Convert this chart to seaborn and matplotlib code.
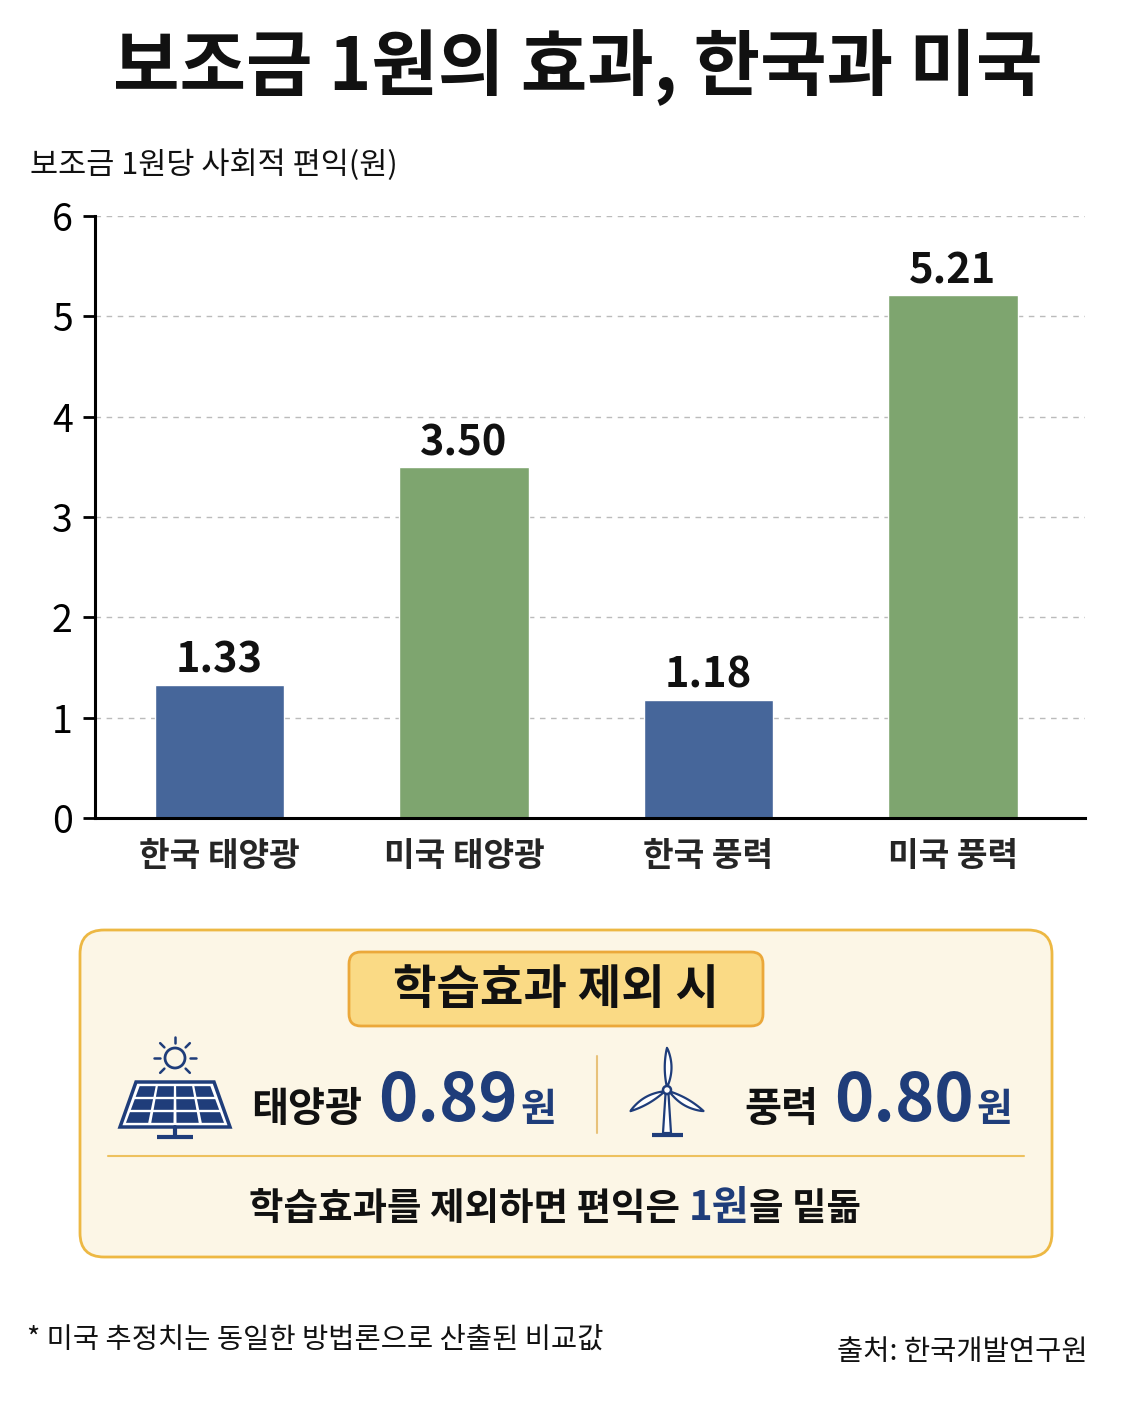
import numpy as np
import pandas as pd
import matplotlib
matplotlib.use("Agg")
import matplotlib.pyplot as plt
import seaborn as sns
from matplotlib.patches import FancyBboxPatch, Polygon, Circle

# chart data
categories = ["한국 태양광", "미국 태양광", "한국 풍력", "미국 풍력"]
values = [1.33, 3.50, 1.18, 5.21]
bar_colors = ["#46669A", "#7EA56F", "#46669A", "#7EA56F"]
y_ticks = [0, 1, 2, 3, 4, 5, 6]

# info box numbers
solar_no_learning = 0.89
wind_no_learning = 0.80

title = "보조금 1원의 효과, 한국과 미국"
y_title = "보조금 1원당 사회적 편익(원)"
box_title = "학습효과 제외 시"
footnote = "* 미국 추정치는 동일한 방법론으로 산출된 비교값"
source = "출처: 한국개발연구원"

NAVY = "#1F3D7A"
GOLD = "#EDB843"
W, H = 1122, 1402

sns.set_theme(style="white")
plt.rcParams["font.family"] = ["Noto Sans CJK KR", "DejaVu Sans"]

df = pd.DataFrame({"category": categories, "value": values})

fig = plt.figure(figsize=(W / 100, H / 100), dpi=100)
fig.patch.set_facecolor("white")


def fx(x):
    return x / W


def fy(y):
    return 1 - y / H


# main bar chart
ax = fig.add_axes([fx(95), fy(818), fx(1085) - fx(95), fy(216) - fy(818)])
sns.barplot(data=df, x="category", y="value", hue="category", palette=bar_colors,
            width=0.53, legend=False, ax=ax, saturation=1)
ax.set_xlim(-0.51, 3.54)
ax.set_ylim(0, 6)
ax.set_yticks(y_ticks)
ax.set_yticklabels([str(t) for t in y_ticks], fontsize=27)
ax.set_xlabel("")
ax.set_ylabel("")
ax.tick_params(axis="y", length=9, width=2, pad=7, colors="black", left=True)
ax.tick_params(axis="x", length=0, pad=16)
for lbl in ax.get_xticklabels():
    lbl.set_fontsize(24)
    lbl.set_fontweight("bold")
ax.yaxis.grid(True, linestyle=(0, (4, 4)), color="#BBBBBB", linewidth=1)
ax.set_axisbelow(True)
sns.despine(ax=ax, top=True, right=True)
ax.spines["left"].set_linewidth(2.2)
ax.spines["bottom"].set_linewidth(2.2)
ax.spines["left"].set_color("black")
ax.spines["bottom"].set_color("black")
for cont in ax.containers:
    ax.bar_label(cont, labels=[f"{v:.2f}" for v in cont.datavalues], padding=2,
                 fontsize=30, fontweight="bold", color="#111111")

fig.text(fx(578), fy(68), title, ha="center", va="center", fontsize=52,
         fontweight="black", color="#111111")
fig.text(fx(30), fy(165), y_title, ha="left", va="center", fontsize=22,
         color="#111111")

# overlay axes in pixel units for the info box
ov = fig.add_axes([0, 0, 1, 1], zorder=5)
ov.set_xlim(0, W)
ov.set_ylim(H, 0)
ov.axis("off")
ov.patch.set_alpha(0)

ov.add_patch(FancyBboxPatch((80, 930), 972, 327, boxstyle="round,pad=0,rounding_size=24",
                            facecolor="#FCF6E6", edgecolor=GOLD, linewidth=2))
ov.add_patch(FancyBboxPatch((349, 952), 414, 74, boxstyle="round,pad=0,rounding_size=12",
                            facecolor="#FADA85", edgecolor="#EBA83A", linewidth=2))
ov.text(556, 990, box_title, ha="center", va="center", fontsize=34,
        fontweight="bold", color="#111111")
ov.plot([597, 597], [1056, 1133], color="#E8C27A", linewidth=1.5)
ov.plot([108, 1024], [1156, 1156], color="#EDC15E", linewidth=1.5)

# solar panel icon
ov.add_patch(Polygon([(136, 1082), (214, 1082), (230, 1127), (120, 1127)], closed=True,
                     facecolor="white", edgecolor=NAVY, linewidth=2.5))
tl, tr, br, bl = np.array([139, 1085]), np.array([211, 1085]), np.array([226, 1124]), np.array([124, 1124])


def lerp_pt(u, v):
    top = tl + (tr - tl) * u
    bot = bl + (br - bl) * u
    return top + (bot - top) * v


for r in range(3):
    for c in range(4):
        u0, u1 = c / 4 + 0.015, (c + 1) / 4 - 0.015
        v0, v1 = r / 3 + 0.03, (r + 1) / 3 - 0.03
        ov.add_patch(Polygon([lerp_pt(u0, v0), lerp_pt(u1, v0), lerp_pt(u1, v1), lerp_pt(u0, v1)],
                             closed=True, facecolor=NAVY, edgecolor="none"))
ov.plot([175, 175], [1127, 1137], color=NAVY, linewidth=3)
ov.plot([157, 193], [1137, 1137], color=NAVY, linewidth=3, solid_capstyle="butt")
ov.add_patch(Circle((175, 1058), 10, facecolor="none", edgecolor=NAVY, linewidth=2))
for a in [0, 45, 90, 135, 180, 225, 315]:
    ang = np.deg2rad(a)
    d = np.array([np.cos(ang), -np.sin(ang)])
    p0, p1 = np.array([175, 1058]) + d * 15, np.array([175, 1058]) + d * 21
    ov.plot([p0[0], p1[0]], [p0[1], p1[1]], color=NAVY, linewidth=1.8)

# wind turbine icon
hub = np.array([667, 1090])
ov.add_patch(Polygon([(665.5, 1094), (668.5, 1094), (671, 1133), (663, 1133)], closed=True,
                     facecolor="white", edgecolor=NAVY, linewidth=1.6))
ov.plot([652, 683], [1135, 1135], color=NAVY, linewidth=3, solid_capstyle="butt")
for a in [90, 210, 330]:
    ang = np.deg2rad(a)
    u = np.array([np.cos(ang), -np.sin(ang)])
    n = np.array([-u[1], u[0]])
    t = np.linspace(3, 42, 30)
    s = 4.5 * np.sin(np.pi * (t - 3) / 39) ** 0.8
    side1 = [hub + u * ti + n * si for ti, si in zip(t, s)]
    side2 = [hub + u * ti - n * si * 0.5 for ti, si in zip(t[::-1], s[::-1])]
    ov.add_patch(Polygon(side1 + side2, closed=True, facecolor="white",
                         edgecolor=NAVY, linewidth=1.6))
ov.add_patch(Circle(tuple(hub), 4, facecolor="white", edgecolor=NAVY, linewidth=1.8, zorder=6))

renderer = fig.canvas.get_renderer()


def place_row(x, y, pieces, center=False):
    """Draw text pieces one after another on a common baseline."""
    texts = []
    for s, kw, gap in pieces:
        texts.append((ov.text(0, y, s, ha="left", va="baseline", **kw), gap))
    widths = [t.get_window_extent(renderer).width + g for t, g in texts]
    start = x - sum(widths) / 2 if center else x
    for (t, g), w in zip(texts, widths):
        t.set_x(start)
        start += w


place_row(251, 1121, [
    ("태양광", dict(fontsize=29, fontweight="bold", color="#111111"), 16),
    (f"{solar_no_learning:.2f}", dict(fontsize=48, fontweight="bold", color=NAVY), 3),
    ("원", dict(fontsize=28, fontweight="bold", color=NAVY), 0),
])
place_row(744, 1121, [
    ("풍력", dict(fontsize=29, fontweight="bold", color="#111111"), 16),
    (f"{wind_no_learning:.2f}", dict(fontsize=48, fontweight="bold", color=NAVY), 3),
    ("원", dict(fontsize=28, fontweight="bold", color=NAVY), 0),
])
place_row(555, 1220, [
    ("학습효과를 제외하면 편익은 ", dict(fontsize=27, fontweight="bold", color="#111111"), 0),
    ("1원", dict(fontsize=29, fontweight="bold", color=NAVY), 0),
    ("을 밑돎", dict(fontsize=27, fontweight="bold", color="#111111"), 0),
], center=True)

fig.text(fx(27), fy(1340), footnote, ha="left", va="center", fontsize=20.5,
         fontweight="medium", color="#111111")
fig.text(fx(1088), fy(1352), source, ha="right", va="center", fontsize=20.5,
         fontweight="medium", color="#111111")

fig.savefig("out.png", dpi=100, facecolor="white")
